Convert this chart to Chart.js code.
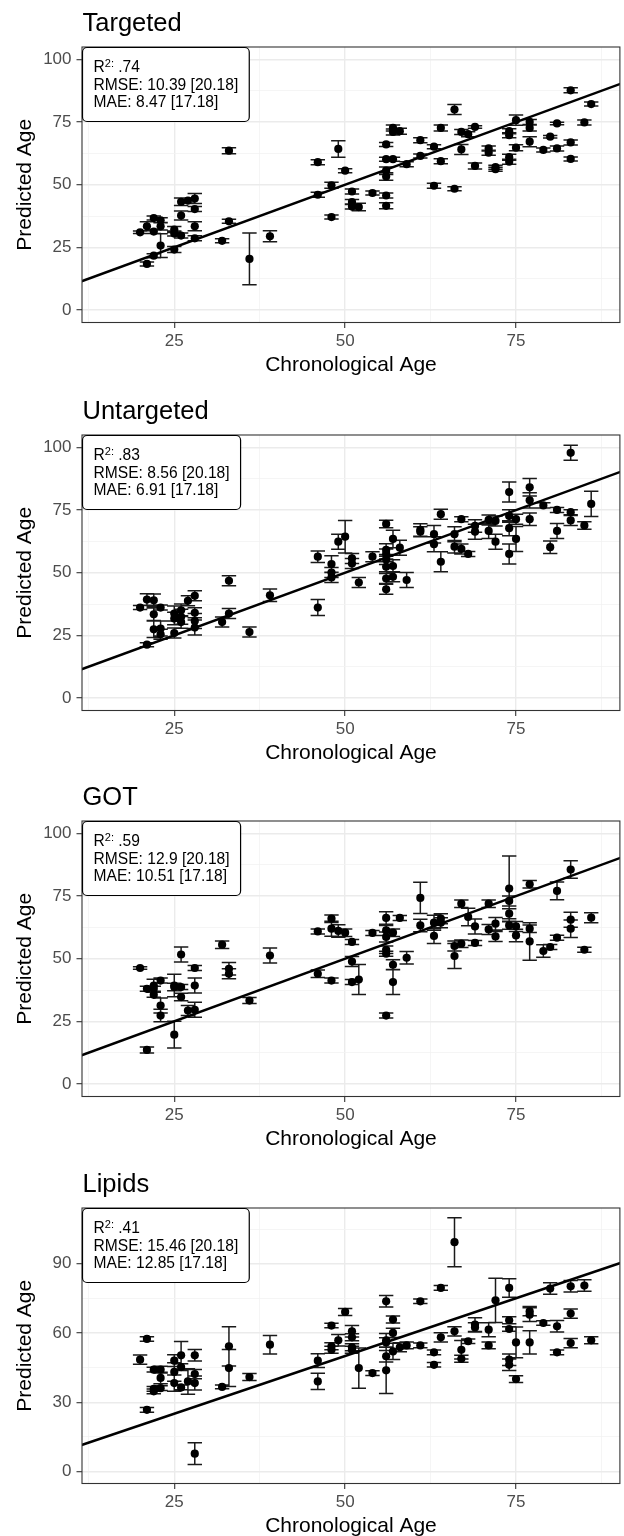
<!DOCTYPE html>
<html>
<head>
<meta charset="utf-8">
<script src="https://cdn.jsdelivr.net/npm/chart.js@4.4.1/dist/chart.umd.min.js"></script>
<style>
  html, body { margin:0; padding:0; background:#fff; }
  body { width:624px; height:1536px; position:relative; overflow:hidden; }
  .panel { position:absolute; left:0; width:624px; height:384px; }
</style>
</head>
<body>
<div class="panel" style="top:0px"><canvas id="p0"></canvas></div>
<div class="panel" style="top:388px"><canvas id="p1"></canvas></div>
<div class="panel" style="top:774px"><canvas id="p2"></canvas></div>
<div class="panel" style="top:1161px"><canvas id="p3"></canvas></div>
<script>
// ---------- DATA ----------
const panelTitles = ['Targeted', 'Untargeted', 'GOT', 'Lipids'];
const r2Values   = ['.74', '.83', '.59', '.41'];
const rmseLabels = ['10.39 [20.18]', '8.56 [20.18]', '12.9 [20.18]', '15.46 [20.18]'];
const maeLabels  = ['8.47 [17.18]', '6.91 [17.18]', '10.51 [17.18]', '12.85 [17.18]'];

const xTicks = [12.5, 25, 37.5, 50, 62.5, 75, 87.5];
const xMajor = [25, 50, 75];
const yTicksA = [0, 12.5, 25, 37.5, 50, 62.5, 75, 87.5, 100];
const yMajorA = [0, 25, 50, 75, 100];
const yTicksB = [0, 15, 30, 45, 60, 75, 90, 105];
const yMajorB = [0, 30, 60, 90];
const identityLine = [0, 120];

const targetedAge = [20,21,21,22,22,22,23,23,23,25, 25,25,26,26,26,27,28,28,28,28,
  32,33,33,36,39,46,46,48,48,49, 50,51,51,51,52,54,56,56,56,56,
  56,56,57,57,57,58,59,61,61,63, 63,64,64,66,66,67,67,68,69,69,
  71,71,72,72,74,74,74,74,75,75, 77,77,77,79,80,81,81,83,83,83, 85,86];
const targetedPred = [31.0,18.4,33.4,21.7,36.7,31.3,33.4,35.8,25.7,32.1, 30.5,24.1,29.7,37.7,43.2,43.7,44.5,40.3,33.4,28.6,
  27.6,63.6,35.4,20.4,29.4,59.0,46.0,37.1,49.8,64.3, 55.6,47.3,43.1,41.3,41.1,46.7,45.7,41.6,53.3,55.6,
  60.2,66.1,60.2,72.7,71.1,71.4,58.2,61.5,67.8,65.2, 49.6,72.7,59.4,80.0,48.4,71.1,64.1,70.2,73.1,57.5,
  64.5,62.8,57.0,56.2,61.0,59.2,69.8,71.4,75.8,64.8, 72.7,75.1,67.2,63.9,69.2,74.5,64.5,66.9,87.7,60.3, 74.9,82.2];
const targetedSD = [0.5,0.8,1.8,0.8,0.8,0.8,1.5,1.0,4.7,1.2, 1.0,1.2,1.0,1.8,1.5,1.0,2.0,1.0,1.8,1.0,
  0.8,1.2,0.8,10.3,2.2,1.0,1.0,0.8,1.2,3.3, 0.8,1.0,1.0,1.0,1.5,0.8,1.0,1.2,1.5,1.5,
  0.8,0.8,0.8,1.2,1.2,1.2,1.0,0.8,1.0,0.8, 1.0,1.2,1.0,2.0,0.8,1.0,2.0,1.0,0.5,1.2,
  1.0,1.0,0.8,0.8,1.2,1.0,1.0,1.0,2.0,1.2, 1.2,1.0,2.0,0.8,0.5,0.5,1.0,1.0,1.0,0.8, 1.0,0.8];

const untargetedAge = [20,21,21,22,22,22,23,23,23,25, 25,25,26,26,26,27,28,28,28,28,
  32,33,33,36,39,46,46,48,48,48, 49,50,51,51,52,54,56,56,56,56,
  56,56,56,57,57,57,58,59,61,61, 63,63,64,64,66,66,67,67,68,69,
  69,71,71,72,72,74,74,74,74,75, 75,77,77,77,79,80,81,81,83,83, 83,85,86];
const untargetedPred = [36.1,39.3,21.3,39.0,33.4,27.4,36.1,27.7,25.4,25.9, 33.7,31.7,35.0,32.4,30.3,38.8,40.8,34.0,30.7,28.1,
  30.3,33.7,46.8,26.3,41.0,56.4,36.1,53.5,50.1,48.1, 62.4,64.4,55.7,53.7,46.1,56.4,69.5,59.1,57.5,55.3,
  52.4,47.7,43.4,63.5,52.7,48.4,60.0,47.1,67.1,66.4, 65.4,61.4,73.4,54.4,65.4,60.4,71.4,59.5,57.5,68.7,
  66.4,71.1,66.7,70.7,62.4,67.8,82.2,72.7,57.5,71.4, 63.5,71.4,84.1,78.9,76.9,60.2,75.1,66.7,74.2,70.9, 97.9,68.9,77.5];
const untargetedSD = [0.8,2.3,0.8,2.5,2.5,3.3,1.0,3.0,2.0,2.0, 3.0,2.5,2.5,3.0,2.5,2.0,2.0,2.0,3.0,3.0,
  2.0,2.0,2.0,2.0,2.5,2.3,3.2,3.3,2.0,2.0, 3.0,6.5,2.0,2.0,2.0,2.0,1.5,2.5,2.0,2.0,
  2.0,2.0,2.0,3.5,2.5,2.0,3.0,3.0,2.5,2.0, 3.5,3.0,2.0,4.0,3.0,2.5,1.0,2.0,1.0,2.5,
  3.0,2.0,3.0,2.0,3.0,3.0,4.0,2.5,4.0,2.0, 5.0,2.5,3.5,3.0,1.0,2.5,1.0,3.0,1.0,2.0, 3.0,1.5,5.0];

const gotAge = [20,21,21,22,22,22,23,23,23,25, 25,25,26,26,26,27,28,28,28,32,
  33,33,36,39,46,46,48,48,48,49, 50,51,51,51,52,54,56,56,56,56,
  56,56,57,57,57,58,59,61,61,63, 63,64,64,66,66,67,67,68,69,69,
  71,71,72,72,74,74,74,74,75,75, 77,77,77,79,80,81,81,83,83,83, 85,86];
const gotPred = [46.3,13.6,38.0,38.0,39.3,35.6,41.3,31.3,27.3,19.7, 38.7,39.3,51.7,38.7,34.7,29.3,46.3,39.3,29.6,55.6,
  46.0,44.0,33.3,51.3,60.9,44.0,66.0,62.0,41.3,61.1, 60.4,56.7,48.9,40.7,41.7,60.3,66.3,61.3,58.7,53.6,
  52.0,27.3,60.4,47.6,40.7,66.3,50.4,74.3,63.3,59.1, 64.4,66.0,64.4,55.1,51.1,56.0,72.0,66.7,62.9,56.3,
  72.0,61.7,64.0,58.9,73.1,78.0,68.0,63.3,62.9,59.3, 62.0,56.9,79.7,53.1,54.7,58.4,77.1,62.0,65.6,85.6, 53.6,66.4];
const gotSD = [0.5,1.2,1.0,1.0,2.5,1.0,1.0,3.0,2.5,5.3, 1.5,4.5,3.0,1.0,1.5,2.0,1.0,3.0,3.0,1.5,
  2.5,2.0,1.2,3.0,1.0,1.5,1.5,3.0,1.0,2.5, 1.5,1.0,2.0,1.0,6.0,1.0,2.5,2.0,2.0,1.5,
  1.0,1.0,1.5,2.0,5.0,1.0,2.5,6.2,2.5,3.0, 3.0,2.0,2.0,2.0,5.0,1.5,1.5,3.5,3.0,1.0,
  1.5,2.0,2.5,2.0,2.0,13.0,2.0,1.5,2.0,2.5, 1.5,7.5,1.5,2.5,1.0,1.0,3.5,3.5,3.0,3.5, 1.0,2.0];

const lipidsAge = [20,21,21,22,22,22,23,23,23,25, 25,25,26,26,26,27,28,28,28,28,
  32,33,33,36,39,46,46,48,48,48, 49,50,51,51,51,51,52,54,56,56,
  56,56,56,57,57,57,58,59,61,61, 63,63,64,64,66,66,67,67,68,69,
  69,71,71,72,74,74,74,74,74,75, 75,77,77,77,79,80,81,81,83,83, 83,85,86];
const lipidsPred = [48.4,57.4,26.7,44.1,34.7,35.8,44.1,40.5,36.1,48.0, 43.1,38.3,50.3,45.2,36.4,39.0,38.3,42.2,50.3,7.7,
  36.6,54.2,44.8,40.9,54.9,48.0,39.0,63.2,54.2,52.7, 56.8,69.1,60.7,58.1,53.8,52.7,44.8,42.6,73.7,56.8,
  55.9,49.9,43.8,65.8,60.0,52.0,53.8,54.6,73.7,54.6, 51.6,46.2,79.5,58.1,99.3,60.7,52.7,48.8,56.4,63.6,
  62.4,61.4,54.6,74.1,79.5,65.5,61.7,48.4,46.2,40.0, 55.9,69.4,67.9,55.9,64.3,79.2,62.9,51.6,80.2,68.4, 55.6,80.5,56.8];
const lipidsSD = [2.0,1.0,1.0,1.0,1.0,1.0,1.5,2.5,1.0,2.5, 4.0,3.5,6.0,1.5,1.0,5.5,3.0,2.0,2.5,4.7,
  0.8,8.5,8.0,1.5,4.0,3.0,3.5,1.0,1.5,1.5, 2.5,1.5,2.5,1.5,1.5,1.5,8.7,1.0,2.5,3.0,
  2.0,2.5,10.0,1.5,2.0,3.5,2.0,1.5,1.0,1.0, 1.0,1.0,1.0,2.0,10.6,2.0,4.0,1.5,1.0,3.0,
  2.0,3.0,1.5,9.6,4.0,1.5,1.0,2.5,2.5,1.5, 6.7,2.0,3.0,5.0,1.0,2.5,2.5,1.0,2.5,2.0, 2.0,2.5,1.5];

// ---------- DRAWING ----------
const FONT = "'Liberation Sans', Arial, Helvetica, sans-serif";

function roundRectPath(ctx, x, y, w, h, r) {
  ctx.beginPath();
  ctx.moveTo(x + r, y);
  ctx.lineTo(x + w - r, y);
  ctx.arcTo(x + w, y, x + w, y + r, r);
  ctx.lineTo(x + w, y + h - r);
  ctx.arcTo(x + w, y + h, x + w - r, y + h, r);
  ctx.lineTo(x + r, y + h);
  ctx.arcTo(x, y + h, x, y + h - r, r);
  ctx.lineTo(x, y + r);
  ctx.arcTo(x, y, x + r, y, r);
  ctx.closePath();
}

function buildPanel(canvasId, k, age, pred, sd, yTicks, yMajor, yMin, yMax) {
  const deco = {
    id: 'deco' + k,
    beforeDatasetsDraw(chart) {
      const { ctx, chartArea: a, scales: { x, y } } = chart;
      ctx.save();
      ctx.beginPath();
      ctx.rect(a.left, a.top, a.right - a.left, a.bottom - a.top);
      ctx.clip();
      ctx.strokeStyle = '#1a1a1a';
      ctx.lineWidth = 1.5;
      ctx.beginPath();
      for (let i = 0; i < age.length; i++) {
        const px = x.getPixelForValue(age[i]);
        const lo = y.getPixelForValue(pred[i] - sd[i]);
        const hi = y.getPixelForValue(pred[i] + sd[i]);
        ctx.moveTo(px, lo); ctx.lineTo(px, hi);
        ctx.moveTo(px - 7.2, lo); ctx.lineTo(px + 7.2, lo);
        ctx.moveTo(px - 7.2, hi); ctx.lineTo(px + 7.2, hi);
      }
      ctx.stroke();
      ctx.restore();
    },
    afterDraw(chart) {
      const { ctx, chartArea: a } = chart;
      ctx.save();
      // panel border
      ctx.strokeStyle = '#333333';
      ctx.lineWidth = 1.1;
      ctx.strokeRect(a.left, a.top, a.right - a.left, a.bottom - a.top);
      // panel title
      ctx.fillStyle = '#000';
      ctx.font = '25.5px ' + FONT;
      ctx.textAlign = 'left';
      ctx.textBaseline = 'alphabetic';
      ctx.fillText(panelTitles[k], a.left + 0.5, a.top - 16.5);
      // metrics label
      const big = '15.6px ' + FONT;
      const small = '11px ' + FONT;
      ctx.font = big;
      const l2 = 'RMSE: ' + rmseLabels[k];
      const l3 = 'MAE: ' + maeLabels[k];
      const w = Math.max(ctx.measureText(l2).width, ctx.measureText(l3).width) + 22;
      const bx = a.left + 0.5, by = a.top + 0.5, bh = 74;
      roundRectPath(ctx, bx, by, w, bh, 4.5);
      ctx.fillStyle = '#fff';
      ctx.fill();
      ctx.strokeStyle = '#000';
      ctx.lineWidth = 1.2;
      ctx.stroke();
      ctx.fillStyle = '#000';
      const tx = bx + 11;
      const b1 = by + 24.5, b2 = by + 42.2, b3 = by + 59.5;
      ctx.fillText('R', tx, b1);
      const wR = ctx.measureText('R').width;
      ctx.font = small;
      ctx.fillText('2:', tx + wR, b1 - 5.5);
      const w2 = ctx.measureText('2:').width;
      ctx.font = big;
      ctx.fillText(' ' + r2Values[k], tx + wR + w2, b1);
      ctx.fillText(l2, tx, b2);
      ctx.fillText(l3, tx, b3);
      ctx.restore();
    }
  };

  const isMajorX = c => c.tick && xMajor.includes(c.tick.value);
  const isMajorY = c => c.tick && yMajor.includes(c.tick.value);

  return new Chart(document.getElementById(canvasId), {
    type: 'scatter',
    data: {
      datasets: [
        {
          type: 'line',
          data: identityLine.map(v => ({ x: v, y: v })),
          borderColor: '#000',
          borderWidth: 2.5,
          pointRadius: 0,
          tension: 0,
          clip: 0,
          order: 0
        },
        {
          type: 'scatter',
          data: age.map((v, i) => ({ x: v, y: pred[i] })),
          backgroundColor: '#000',
          borderWidth: 0,
          pointRadius: 4.1,
          order: 1
        }
      ]
    },
    options: {
      animation: false,
      responsive: true,
      maintainAspectRatio: false,
      devicePixelRatio: 1,
      events: [],
      layout: { padding: { top: 47, right: 1, bottom: 0, left: 0 } },
      plugins: { legend: { display: false }, tooltip: { enabled: false }, title: { display: false } },
      scales: {
        x: {
          type: 'linear',
          position: 'bottom',
          min: 11.5,
          max: 90.2,
          afterBuildTicks: s => { s.ticks = xTicks.map(v => ({ value: v })); },
          afterFit: s => { s.height = 61.5; },
          ticks: {
            autoSkip: false, maxRotation: 0, padding: 3,
            color: '#4D4D4D', font: { family: FONT, size: 17 },
            callback: v => xMajor.includes(v) ? String(v) : ''
          },
          grid: {
            color: c => isMajorX(c) ? '#EBEBEB' : '#F2F2F2',
            lineWidth: c => isMajorX(c) ? 1.4 : 0.8,
            tickLength: 5.5,
            tickWidth: 1.1,
            tickColor: c => isMajorX(c) ? '#333333' : 'rgba(0,0,0,0)'
          },
          border: { display: false },
          title: {
            display: true, text: 'Chronological Age', color: '#000',
            font: { family: FONT, size: 21 }, padding: { top: 0, bottom: 6 }
          }
        },
        y: {
          type: 'linear',
          position: 'left',
          min: yMin,
          max: yMax,
          afterBuildTicks: s => { s.ticks = yTicks.map(v => ({ value: v })); },
          afterFit: s => { s.width = 82; },
          ticks: {
            autoSkip: false, padding: 5,
            color: '#4D4D4D', font: { family: FONT, size: 17 },
            callback: v => yMajor.includes(v) ? String(v) : ''
          },
          grid: {
            color: c => isMajorY(c) ? '#EBEBEB' : '#F2F2F2',
            lineWidth: c => isMajorY(c) ? 1.4 : 0.8,
            tickLength: 5.5,
            tickWidth: 1.1,
            tickColor: c => isMajorY(c) ? '#333333' : 'rgba(0,0,0,0)'
          },
          border: { display: false },
          title: {
            display: true, text: 'Predicted Age', color: '#000',
            font: { family: FONT, size: 21 }, padding: { top: 13, bottom: 0 }
          }
        }
      }
    },
    plugins: [deco]
  });
}

buildPanel('p0', 0, targetedAge, targetedPred, targetedSD, yTicksA, yMajorA, -5, 105);
buildPanel('p1', 1, untargetedAge, untargetedPred, untargetedSD, yTicksA, yMajorA, -5, 105);
buildPanel('p2', 2, gotAge, gotPred, gotSD, yTicksA, yMajorA, -5, 105);
buildPanel('p3', 3, lipidsAge, lipidsPred, lipidsSD, yTicksB, yMajorB, -5.2, 114.1);
</script>
</body>
</html>
